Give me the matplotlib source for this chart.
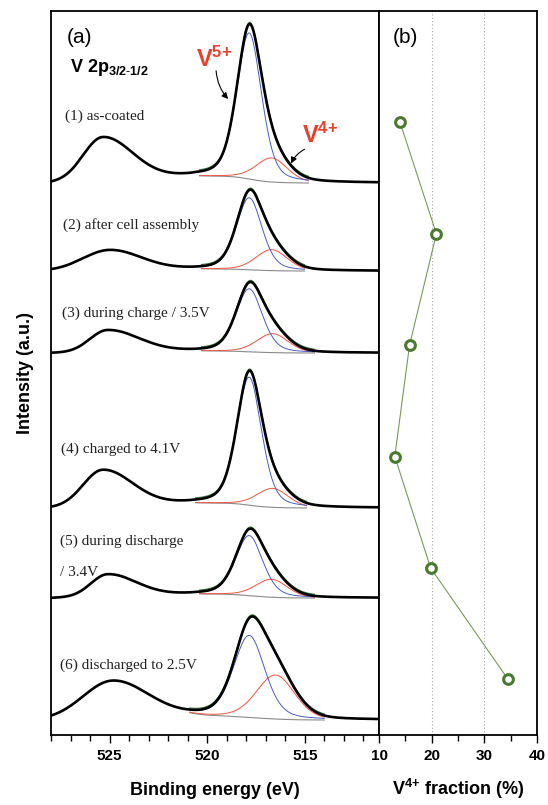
import numpy as np
import matplotlib
matplotlib.use("Agg")
import matplotlib.pyplot as plt
from matplotlib.ticker import MultipleLocator, FixedLocator

plt.rcParams['font.family'] = ['Liberation Sans', 'DejaVu Sans']
plt.rcParams['mathtext.fontset'] = 'custom'
plt.rcParams['mathtext.rm'] = 'Liberation Sans'
plt.rcParams['mathtext.bf'] = 'Liberation Sans:bold'
plt.rcParams['mathtext.it'] = 'Liberation Sans:italic'

# sample names (panel a) and V4+ fraction (panel b)
labels = ["(1) as-coated", "(2) after cell assembly", "(3) during charge / 3.5V",
          "(4) charged to 4.1V", "(5) during discharge", "(6) discharged to 2.5V"]
v4_frac = [14.0, 20.9, 15.8, 13.0, 19.8, 34.5]

# spectrum parameters (intensity in a.u., energies in eV)
base = [552, 464, 382, 227, 137, 15]          # vertical offset of each spectrum
sat_c = [525.35, 525.0, 525.1, 525.35, 525.1, 524.85]   # V 2p1/2 peak
sat_h = [43, 20, 22, 36, 22, 37]
sat_sl = [1.0, 1.35, 0.9, 1.0, 0.85, 1.5]
sat_sr = [1.5, 1.6, 1.6, 1.5, 1.45, 1.8]
fit_hi = [520.4, 520.3, 520.3, 520.6, 520.4, 520.9]   # fit window
fit_lo = [514.8, 515.0, 514.5, 514.9, 514.5, 514.0]
step = [7, 2, 2, 5, 4, 4]                      # Shirley step height
v5_c = [517.85, 517.85, 517.85, 517.85, 517.85, 517.85]
v5_h = [146, 72, 63, 128, 60, 82]
v5_w = [1.5, 1.55, 1.6, 1.5, 1.65, 1.9]
v4_c = [516.7, 516.7, 516.65, 516.65, 516.7, 516.5]
v4_h = [24, 21, 19, 19, 18, 44]
v4_w = [1.9, 1.9, 1.9, 1.9, 1.9, 2.3]


def pvoigt(e, c, h, w, eta=0.35):
    x = (e - c) / w
    return h * ((1 - eta) * np.exp(-4 * np.log(2) * x ** 2) + eta / (1 + 4 * x ** 2))


def asym_gauss(e, c, h, sl, sr):
    s = np.where(e > c, sl, sr)
    return h * np.exp(-0.5 * ((e - c) / s) ** 2)


E = np.linspace(511.2, 528, 1500)

fig = plt.figure(figsize=(5.48, 8.05), dpi=100)
ax = fig.add_axes([51 / 548, 70 / 805, 328 / 548, 724 / 805])
ax2 = fig.add_axes([379 / 548, 70 / 805, 158 / 548, 724 / 805])

for i in range(6):
    v5 = pvoigt(E, v5_c[i], v5_h[i], v5_w[i])
    v4 = pvoigt(E, v4_c[i], v4_h[i], v4_w[i], eta=0.2)
    sat = asym_gauss(E, sat_c[i], sat_h[i], sat_sl[i], sat_sr[i])
    win = (E >= fit_lo[i]) & (E <= fit_hi[i])
    cum = np.cumsum((v5 + v4) * win)
    shirley = step[i] * cum / cum[-1]
    ramp = step[i] * (528 - E) / (528 - fit_hi[i])
    stp = np.where(E > fit_hi[i], ramp, np.where(E < fit_lo[i], 0, shirley))
    bg = base[i] + stp + sat
    raw = bg + v5 + v4

    ax.plot(E[win], bg[win], color='#8a8a8a', lw=0.8, zorder=2)
    ax.plot(E[win], (bg + v4)[win], color='#f2543f', lw=0.7, zorder=2)
    ax.plot(E[win], (bg + v5)[win], color='#4a5cc0', lw=0.7, zorder=2)
    ax.plot(E[win], raw[win] + 1.6, color='#3d7a3d', lw=0.8, zorder=2.5)
    ax.plot(E, raw, color='black', lw=1.9, zorder=3)

ax.set_xlim(528, 511.2)
ax.set_ylim(0, 724)
ax.xaxis.set_major_locator(FixedLocator([525, 520, 515]))
ax.xaxis.set_minor_locator(MultipleLocator(1))
ax.set_yticks([])
ax.tick_params(axis='x', which='major', direction='out', length=6, width=1, pad=4)
ax.tick_params(axis='x', which='minor', direction='out', length=4, width=1)
for lab in ax.get_xticklabels():
    lab.set_fontweight('bold')
    lab.set_fontsize(11)
ax.set_xlabel('Binding energy (eV)', fontsize=13, fontweight='bold', labelpad=14)
ax.set_ylabel('Intensity (a.u.)', fontsize=13, fontweight='bold', labelpad=12)

# panel labels and sample names
ax.text(0.049, 0.964, '(a)', transform=ax.transAxes, fontsize=15, va='center')
ax.text(0.058, 0.922, r'$\mathbf{V\ 2p_{3/2\text{-}1/2}}$', transform=ax.transAxes,
        fontsize=13, va='center')
name_x = [0.043, 0.037, 0.034, 0.030, 0.027, 0.027]
name_y = [0.855, 0.704, 0.583, 0.395, 0.268, 0.097]
for i in range(6):
    ax.text(name_x[i], name_y[i], labels[i], transform=ax.transAxes, fontsize=11,
            family='Liberation Serif', va='center', color='#222222')
ax.text(0.027, 0.225, '/ 3.4V', transform=ax.transAxes, fontsize=11,
        family='Liberation Serif', va='center', color='#222222')

red = '#e8402a'
ax.text(519.65, 668, r'$\mathbf{V^{5{+}}}$', color=red, fontsize=17, ha='center', va='baseline')
ax.annotate('', xy=(518.83, 634), xytext=(519.55, 667),
            arrowprops=dict(arrowstyle='-|>', lw=0.8, color='black', mutation_scale=9,
                            connectionstyle='arc3,rad=0.2'), zorder=6)
ax.text(514.22, 592, r'$\mathbf{V^{4{+}}}$', color=red, fontsize=17, ha='center', va='baseline')
ax.annotate('', xy=(515.76, 569), xytext=(514.89, 587),
            arrowprops=dict(arrowstyle='-|>', lw=0.8, color='black', mutation_scale=9,
                            connectionstyle='arc3,rad=0.2'), zorder=6)

# panel b
samples = np.arange(1, 7)
ax2.plot(v4_frac, samples, color='#7a9a5a', lw=0.8, zorder=2)
ax2.plot(v4_frac, samples, 'o', ms=7, mfc='white', mec='#4a7a30', mew=2.2, zorder=3)
ax2.set_xlim(10, 40)
ax2.set_ylim(6.5, 0)
ax2.xaxis.set_major_locator(MultipleLocator(10))
ax2.xaxis.set_minor_locator(MultipleLocator(5))
ax2.set_yticks([])
ax2.grid(axis='x', which='major', linestyle=(0, (1, 2)), color='#aaaaaa', lw=0.8)
ax2.tick_params(axis='x', which='major', direction='out', length=6, width=1, pad=4)
ax2.tick_params(axis='x', which='minor', direction='out', length=4, width=1)
for lab in ax2.get_xticklabels():
    lab.set_fontweight('bold')
    lab.set_fontsize(11)
ax2.set_xlabel(r'$\mathbf{V^{4{+}}}$ fraction (%)', fontsize=13, fontweight='bold', labelpad=10)
ax2.text(0.09, 0.964, '(b)', transform=ax2.transAxes, fontsize=15, va='center')

for a in (ax, ax2):
    for sp in a.spines.values():
        sp.set_linewidth(1.3)

fig.savefig('out.png', dpi=100)
